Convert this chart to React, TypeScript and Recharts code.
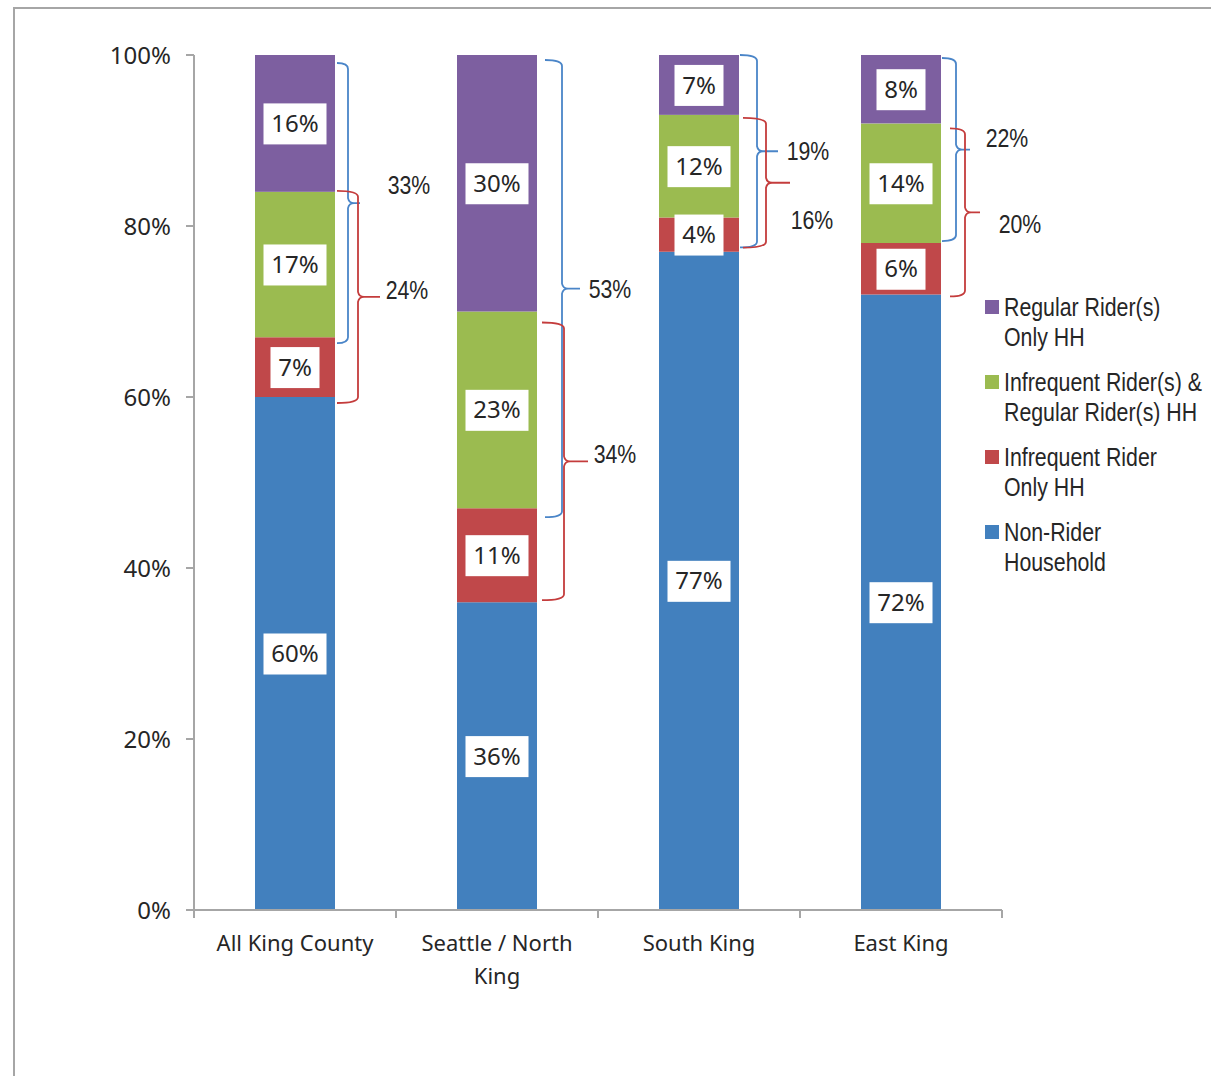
import { BarChart, Bar, XAxis, YAxis, LabelList, Legend } from "recharts";

// share of households by rider type, per sub-area (percent)
const categories = ["All King County", "Seattle / North King", "South King", "East King"];
const nonRider = [60, 36, 77, 72];
const infrequentOnly = [7, 11, 4, 6];
const mixedRiders = [17, 23, 12, 14];
const regularOnly = [16, 30, 7, 8];
const yTicks = [0, 20, 40, 60, 80, 100];

const legendLines = [
  ["Regular Rider(s)", "Only HH"],
  ["Infrequent Rider(s) &", "Regular Rider(s) HH"],
  ["Infrequent Rider", "Only HH"],
  ["Non-Rider", "Household"],
];

const data = categories.map((name, i) => ({
  name,
  nonRider: nonRider[i],
  infrequentOnly: infrequentOnly[i],
  mixedRiders: mixedRiders[i],
  regularOnly: regularOnly[i],
}));

const COLORS = {
  nonRider: "#4280BE",
  infrequentOnly: "#C0484A",
  mixedRiders: "#9BBB50",
  regularOnly: "#7D5FA0",
};
const BRACE_BLUE = "#4A85C8";
const BRACE_RED = "#C43C3C";
const AXIS = "#A6A6A6";
const TEXT = "#262626";
const FONT = "'Noto Sans', 'Open Sans', sans-serif";
// no narrow face installed: Liberation Sans squeezed horizontally stands in for it
const NARROW = "'Liberation Sans', Arial, sans-serif";
const SQUEEZE = 0.82;

const W = 1211;
const H = 1076;
const PLOT_LEFT = 194;
const PLOT_RIGHT = 1002;
const STEP = (PLOT_RIGHT - PLOT_LEFT) / categories.length;

// hand-placed look of the braces: offsets from the bar's right edge, nudges in px
const braceLayout = [
  {
    blue: { x0: 2, sx: 13, tx: 25, dt: 8, db: 6, lx: 74, ly: -18 },
    red: { x0: 2, sx: 23, tx: 45, dt: -1, db: 6, lx: 72, ly: -7 },
  },
  {
    blue: { x0: 8, sx: 25, tx: 43, dt: 5, db: 9, lx: 73, ly: 0 },
    red: { x0: 5, sx: 27, tx: 51, dt: 11, db: -2, lx: 78, ly: -8 },
  },
  {
    blue: { x0: 1, sx: 18, tx: 39, dt: 0, db: 30, lx: 69, ly: -1 },
    red: { x0: 4, sx: 27, tx: 51, dt: 3, db: -4, lx: 73, ly: 37 },
  },
  {
    blue: { x0: 1, sx: 15, tx: 29, dt: 3, db: -2, lx: 66, ly: -12 },
    red: { x0: 9, sx: 24, tx: 39, dt: 5, db: 2, lx: 79, ly: 11 },
  },
];

function bracePath(x0: number, sx: number, tx: number, top: number, bot: number) {
  const mid = (top + bot) / 2;
  const r = 6;
  return [
    `M ${x0} ${top} Q ${sx} ${top} ${sx} ${top + r}`,
    `L ${sx} ${mid - 5} Q ${sx + 1} ${mid} ${sx + 6} ${mid} L ${tx} ${mid}`,
    `M ${sx + 6} ${mid} Q ${sx + 1} ${mid} ${sx} ${mid + 5}`,
    `L ${sx} ${bot - r} Q ${sx} ${bot} ${x0} ${bot}`,
  ].join(" ");
}

function Brace({ right, top, bot, cfg, color, label }: any) {
  const t = top + cfg.dt;
  const b = bot + cfg.db;
  const mid = (t + b) / 2;
  return (
    <g>
      <path
        d={bracePath(right + cfg.x0, right + cfg.sx, right + cfg.tx, t, b)}
        fill="none"
        stroke={color}
        strokeWidth={1.8}
      />
      <text
        transform={`translate(${right + cfg.lx} ${mid + cfg.ly}) scale(${SQUEEZE} 1)`}
        dy="0.36em"
        textAnchor="middle"
        fontSize={26}
        fontFamily={NARROW}
        fill={TEXT}
      >
        {label}%
      </text>
    </g>
  );
}

// top segment: draws the bar and the two braces next to the column
function RegularShape(props: any) {
  const { x, y, width, height, payload, index } = props;
  const p = payload;
  const total = p.nonRider + p.infrequentOnly + p.mixedRiders + p.regularOnly;
  const k = height / p.regularOnly;
  const yAt = (v: number) => y + height + (total - p.regularOnly - v) * k;
  const right = x + width;
  const cfg = braceLayout[index];
  return (
    <g>
      <rect x={x} y={y} width={width} height={height} fill={COLORS.regularOnly} />
      <Brace
        right={right}
        top={yAt(total)}
        bot={yAt(total - p.regularOnly - p.mixedRiders)}
        cfg={cfg.blue}
        color={BRACE_BLUE}
        label={p.regularOnly + p.mixedRiders}
      />
      <Brace
        right={right}
        top={yAt(total - p.regularOnly)}
        bot={yAt(total - p.regularOnly - p.mixedRiders - p.infrequentOnly)}
        cfg={cfg.red}
        color={BRACE_RED}
        label={p.mixedRiders + p.infrequentOnly}
      />
    </g>
  );
}

function BoxLabel(props: any) {
  const { x, y, width, height, value } = props;
  const text = `${value}%`;
  const w = text.length * 14 + 21;
  const cx = x + width / 2;
  const cy = y + height / 2;
  return (
    <g>
      <rect x={cx - w / 2} y={cy - 20} width={w} height={41} fill="#fff" />
      <text
        x={cx}
        y={cy}
        dy="0.36em"
        textAnchor="middle"
        fontSize={24}
        fontFamily={FONT}
        fill={TEXT}
      >
        {text}
      </text>
    </g>
  );
}

function wrapLabel(s: string, max = 16) {
  const words = s.split(" ");
  const lines: string[] = [];
  let cur = "";
  for (const w of words) {
    const next = cur ? cur + " " + w : w;
    if (next.length > max && cur) {
      lines.push(cur);
      cur = w;
    } else cur = next;
  }
  if (cur) lines.push(cur);
  return lines;
}

function CategoryTick(props: any) {
  const { x, y, payload, index } = props;
  const lines = wrapLabel(String(payload.value));
  return (
    <g>
      <line x1={x - STEP / 2} y1={y} x2={x - STEP / 2} y2={y + 8} stroke={AXIS} strokeWidth={2} />
      {index === categories.length - 1 && (
        <line x1={x + STEP / 2} y1={y} x2={x + STEP / 2} y2={y + 8} stroke={AXIS} strokeWidth={2} />
      )}
      <text x={x} y={y + 41} textAnchor="middle" fontSize={22} fontFamily={FONT} fill={TEXT}>
        {lines.map((l, i) => (
          <tspan key={i} x={x} dy={i === 0 ? 0 : 33}>
            {l}
          </tspan>
        ))}
      </text>
    </g>
  );
}

const legendColors = [COLORS.regularOnly, COLORS.mixedRiders, COLORS.infrequentOnly, COLORS.nonRider];

function LegendBox() {
  return (
    <div style={{ fontFamily: NARROW, fontSize: 26, color: TEXT, lineHeight: "30px" }}>
      {legendLines.map((lines, i) => (
        <div key={i} style={{ position: "relative", paddingLeft: 19, marginBottom: 15 }}>
          <span
            style={{
              position: "absolute",
              left: 0,
              top: 8,
              width: 14,
              height: 14,
              background: legendColors[i],
            }}
          />
          {lines.map((l, j) => (
            <div
              key={j}
              style={{
                whiteSpace: "nowrap",
                transform: `scaleX(${SQUEEZE})`,
                transformOrigin: "left center",
              }}
            >
              {l}
            </div>
          ))}
        </div>
      ))}
    </div>
  );
}

export default function App() {
  return (
    <div
      style={{
        position: "absolute",
        left: 0,
        top: 0,
        width: W,
        height: H,
        overflow: "hidden",
        background: "#fff",
      }}
    >
      <div
        style={{
          position: "absolute",
          left: 13,
          top: 7,
          width: 1400,
          height: 1400,
          border: `2px solid ${AXIS}`,
        }}
      />
      <div style={{ position: "absolute", left: 0, top: 0 }}>
        <BarChart
          width={W}
          height={H}
          data={data}
          margin={{ top: 55, right: W - PLOT_RIGHT, bottom: 86, left: PLOT_LEFT - 60 }}
          barSize={80}
        >
          <XAxis
            dataKey="name"
            interval={0}
            height={80}
            tickLine={false}
            tickSize={0}
            tickMargin={0}
            axisLine={{ stroke: AXIS, strokeWidth: 2 }}
            tick={<CategoryTick />}
          />
          <YAxis
            type="number"
            domain={[0, 100]}
            ticks={yTicks}
            width={60}
            tickFormatter={(v: number) => `${v}%`}
            tick={{ fill: TEXT, fontSize: 24, fontFamily: FONT }}
            tickSize={8}
            tickMargin={15}
            axisLine={{ stroke: AXIS, strokeWidth: 2 }}
            tickLine={{ stroke: AXIS, strokeWidth: 2 }}
          />
          <Legend
            layout="vertical"
            align="center"
            verticalAlign="middle"
            wrapperStyle={{ left: 985, top: 292, width: 226, height: "auto" }}
            content={() => <LegendBox />}
          />
          <Bar dataKey="nonRider" name="Non-Rider Household" stackId="a" fill={COLORS.nonRider} isAnimationActive={false}>
            <LabelList dataKey="nonRider" content={<BoxLabel />} />
          </Bar>
          <Bar
            dataKey="infrequentOnly"
            name="Infrequent Rider Only HH"
            stackId="a"
            fill={COLORS.infrequentOnly}
            isAnimationActive={false}
          >
            <LabelList dataKey="infrequentOnly" content={<BoxLabel />} />
          </Bar>
          <Bar
            dataKey="mixedRiders"
            name="Infrequent Rider(s) & Regular Rider(s) HH"
            stackId="a"
            fill={COLORS.mixedRiders}
            isAnimationActive={false}
          >
            <LabelList dataKey="mixedRiders" content={<BoxLabel />} />
          </Bar>
          <Bar
            dataKey="regularOnly"
            name="Regular Rider(s) Only HH"
            stackId="a"
            fill={COLORS.regularOnly}
            shape={<RegularShape />}
            isAnimationActive={false}
          >
            <LabelList dataKey="regularOnly" content={<BoxLabel />} />
          </Bar>
        </BarChart>
      </div>
    </div>
  );
}
